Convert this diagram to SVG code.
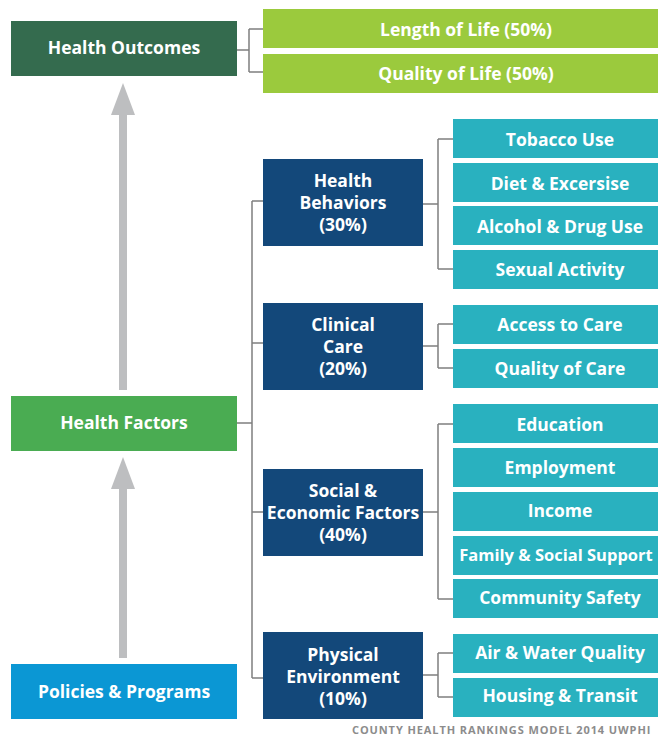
<svg xmlns="http://www.w3.org/2000/svg" width="658" height="739" viewBox="0 0 658 739">
<defs>
<style>
text{font-family:"Open Sans","Liberation Sans",sans-serif;font-weight:bold;fill:#ffffff;text-anchor:middle;font-size:17.5px}
.lime{fill:#9bca3d}
.teal{fill:#29b1bf}
.navy{fill:#13487a}
.con{fill:none;stroke:#7f7f7f;stroke-width:1.5}
.arrow{fill:#bdbec0}
.foot{fill:#8c8c8c;font-size:11px;text-anchor:start;letter-spacing:0.9px}
.tight{font-size:16.5px}
</style>
</defs>
<rect width="658" height="739" fill="#ffffff"/>
<g id="arrows">
<path class="arrow" d="M119,390 L119,115 L111,115 L123,83 L135,115 L127,115 L127,390 Z"/>
<path class="arrow" d="M119,658 L119,489 L111,489 L123,457 L135,489 L127,489 L127,658 Z"/>
</g>
<g id="connectors">
<path class="con" d="M237,50 H249 M249,29 V72 M249,29 H263 M249,72 H263"/>
<path class="con" d="M237,423 H252 M252,201 V678 M252,201 H263 M252,343 H263 M252,512 H263 M252,678 H263"/>
<path class="con" d="M423,204 H438 M438,139 V269 M438,139 H453 M438,269 H453"/>
<path class="con" d="M423,346 H438 M438,324 V368 M438,324 H453 M438,368 H453"/>
<path class="con" d="M423,512 H438 M438,424 V599 M438,424 H453 M438,599 H453"/>
<path class="con" d="M423,675 H438 M438,653 V697 M438,653 H453 M438,697 H453"/>
</g>
<g id="health-outcomes"><rect x="11" y="21" width="226" height="55" fill="#346b4e"/><text x="124" y="54">Health Outcomes</text></g>
<g id="health-factors"><rect x="11" y="396" width="226" height="55" fill="#4aac52"/><text x="124" y="429">Health Factors</text></g>
<g id="policies-programs"><rect x="11" y="664" width="226" height="55" fill="#0b97d4"/><text x="124" y="698">Policies &amp; Programs</text></g>
<g id="length-of-life"><rect class="lime" x="263" y="9" width="395" height="39"/><text x="466" y="36">Length of Life (50%)</text></g>
<g id="quality-of-life"><rect class="lime" x="263" y="54" width="395" height="39"/><text x="466" y="80">Quality of Life (50%)</text></g>
<g id="health-behaviors"><rect class="navy" x="263" y="159" width="160" height="87"/><text x="343" y="187">Health</text><text x="343" y="209">Behaviors</text><text x="343" y="231">(30%)</text></g>
<g id="clinical-care"><rect class="navy" x="263" y="303" width="160" height="87"/><text x="343" y="331">Clinical</text><text x="343" y="353">Care</text><text x="343" y="375">(20%)</text></g>
<g id="social-economic"><rect class="navy" x="263" y="469" width="160" height="87"/><text x="343" y="497">Social &amp;</text><text x="343" y="519">Economic Factors</text><text x="343" y="541">(40%)</text></g>
<g id="physical-environment"><rect class="navy" x="263" y="632" width="160" height="87"/><text x="343" y="661">Physical</text><text x="343" y="683">Environment</text><text x="343" y="705">(10%)</text></g>
<g id="tobacco-use"><rect class="teal" x="453" y="119" width="205" height="39"/><text x="560" y="146">Tobacco Use</text></g>
<g id="diet-exercise"><rect class="teal" x="453" y="163" width="205" height="39"/><text x="560" y="190">Diet &amp; Excersise</text></g>
<g id="alcohol-drug"><rect class="teal" x="453" y="206" width="205" height="39"/><text x="560" y="233">Alcohol &amp; Drug Use</text></g>
<g id="sexual-activity"><rect class="teal" x="453" y="250" width="205" height="39"/><text x="560" y="276">Sexual Activity</text></g>
<g id="access-to-care"><rect class="teal" x="453" y="305" width="205" height="39"/><text x="560" y="331">Access to Care</text></g>
<g id="quality-of-care"><rect class="teal" x="453" y="349" width="205" height="39"/><text x="560" y="375">Quality of Care</text></g>
<g id="education"><rect class="teal" x="453" y="404" width="205" height="39"/><text x="560" y="431">Education</text></g>
<g id="employment"><rect class="teal" x="453" y="448" width="205" height="39"/><text x="560" y="474">Employment</text></g>
<g id="income"><rect class="teal" x="453" y="492" width="205" height="39"/><text x="560" y="517">Income</text></g>
<g id="family-social"><rect class="teal" x="453" y="536" width="205" height="39"/><text class="tight" x="556" y="561">Family &amp; Social Support</text></g>
<g id="community-safety"><rect class="teal" x="453" y="579" width="205" height="39"/><text x="560" y="604">Community Safety</text></g>
<g id="air-water"><rect class="teal" x="453" y="634" width="205" height="39"/><text x="560" y="659">Air &amp; Water Quality</text></g>
<g id="housing-transit"><rect class="teal" x="453" y="678" width="205" height="39"/><text x="560" y="702">Housing &amp; Transit</text></g>
<text class="foot" x="352" y="734">COUNTY HEALTH RANKINGS MODEL 2014 UWPHI</text>
</svg>
